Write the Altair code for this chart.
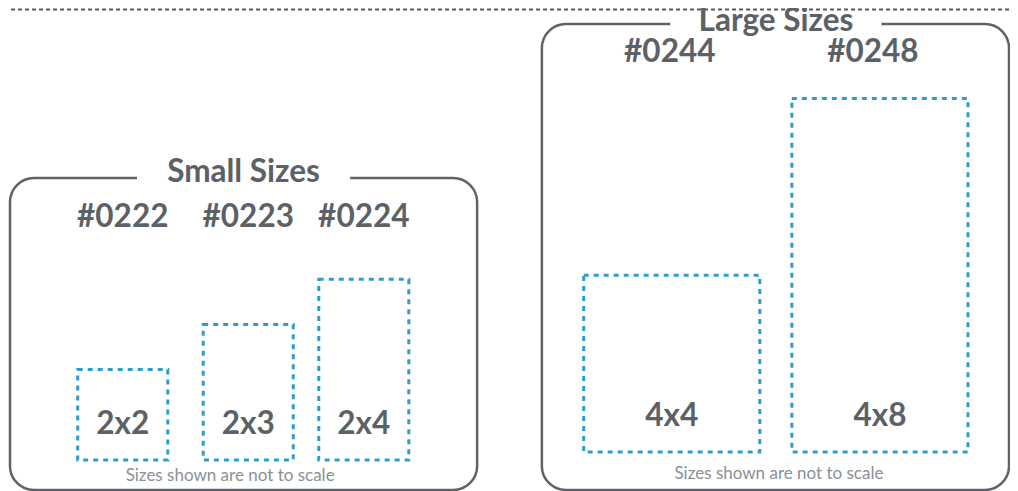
import altair as alt
import pandas as pd

# ---- content ----
groups = ["Small Sizes", "Large Sizes"]
parts = ["#0222", "#0223", "#0224", "#0244", "#0248"]
sizes = ["2x2", "2x3", "2x4", "4x4", "4x8"]
part_group = ["Small Sizes", "Small Sizes", "Small Sizes", "Large Sizes", "Large Sizes"]
footnote = "Sizes shown are not to scale"

# ---- layout (reference pixel space) ----
W, H = 1002, 483
box_layout = {
    "Small Sizes": dict(x0=13, x1=482, y0=178, y1=490, tx=247.5, ty=173, gap=107, fx=234, fy=476),
    "Large Sizes": dict(x0=547, x1=1016, y0=24, y1=490, tx=782, ty=22, gap=106, fx=785, fy=474),
}
unit = {"Small Sizes": 45.2, "Large Sizes": 44.2}
base = {"Small Sizes": 460, "Large Sizes": 452}
lefts = [81, 207, 323, 589, 798]
label_y = {"Small Sizes": 218, "Large Sizes": 53}
label_dx = [0, 0, 0, -2, -7]

GRAY = "#5c6166"
BLUE = "#2e9dcb"
FONT = "Lato"
BIG = 31.5

xs = alt.Scale(domain=[11, 1017], nice=False, zero=False)
ys = alt.Scale(domain=[491, 8], nice=False, zero=False)


def X(f):
    return alt.X(f"{f}:Q", scale=xs, axis=None)


def Y(f):
    return alt.Y(f"{f}:Q", scale=ys, axis=None)


boxes = pd.DataFrame([dict(group=g, **box_layout[g]) for g in groups])
boxes["gx0"] = boxes["tx"] - boxes["gap"]
boxes["gx1"] = boxes["tx"] + boxes["gap"]
boxes["gy0"] = boxes["y0"] - 4
boxes["gy1"] = boxes["y0"] + 4

rows = []
for p, s, g, l, dx in zip(parts, sizes, part_group, lefts, label_dx):
    w, h = (int(v) for v in s.split("x"))
    u = unit[g]
    x0, x1 = l, l + w * u
    y1 = base[g]
    y0 = y1 - h * u
    rows.append(dict(part=p, size=s, group=g, x0=x0, x1=x1, y0=y0, y1=y1,
                     cx=(x0 + x1) / 2, px=(x0 + x1) / 2 + dx, py=label_y[g], sy=y1 - 35))
items = pd.DataFrame(rows)

topline = pd.DataFrame({"x0": [0], "x1": [1030], "y": [9.5]})

line = alt.Chart(topline).mark_rule(stroke="#555a5e", strokeWidth=2, strokeDash=[4, 3]).encode(
    x=X("x0"), x2="x1", y=Y("y"))

frame = alt.Chart(boxes).mark_rect(fill="white", stroke="#5f6368", strokeWidth=2.5, cornerRadius=24).encode(
    x=X("x0"), x2="x1", y=Y("y0"), y2="y1")

gap = alt.Chart(boxes).mark_rect(fill="white").encode(
    x=X("gx0"), x2="gx1", y=Y("gy0"), y2="gy1")

title = alt.Chart(boxes).mark_text(font=FONT, fontWeight="bold", fontSize=BIG, color=GRAY,
                                   align="center", baseline="middle").encode(
    x=X("tx"), y=Y("ty"), text="group:N")

foot = alt.Chart(boxes).transform_calculate(note=f"'{footnote}'").mark_text(
    font=FONT, fontSize=17, color="#8a9096", align="center", baseline="middle").encode(
    x=X("fx"), y=Y("fy"), text="note:N")

rects = alt.Chart(items).mark_rect(fill="white", fillOpacity=0, stroke=BLUE, strokeWidth=3,
                                    strokeDash=[5, 5]).encode(
    x=X("x0"), x2="x1", y=Y("y0"), y2="y1")

part_lbl = alt.Chart(items).mark_text(font=FONT, fontWeight="bold", fontSize=BIG, color=GRAY,
                                      align="center", baseline="middle").encode(
    x=X("px"), y=Y("py"), text="part:N")

size_lbl = alt.Chart(items).mark_text(font=FONT, fontWeight="bold", fontSize=BIG, color=GRAY,
                                      align="center", baseline="middle").encode(
    x=X("cx"), y=Y("sy"), text="size:N")

chart = alt.layer(line, frame, gap, title, foot, rects, part_lbl, size_lbl).properties(
    width=W, height=H, padding=0, autosize=alt.AutoSizeParams(type="none")
).configure_view(stroke=None)

chart.save("out.html", embed_options={"renderer": "svg", "actions": False})
